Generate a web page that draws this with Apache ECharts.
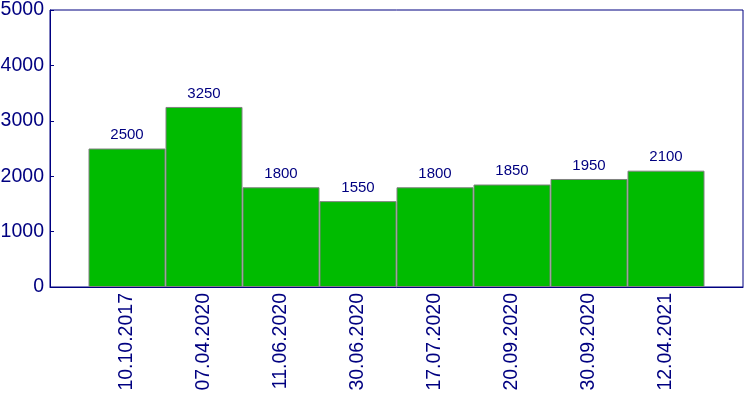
<!DOCTYPE html>
<html>
<head>
<meta charset="utf-8">
<script src="https://cdn.jsdelivr.net/npm/echarts@6/dist/echarts.min.js"></script>
<style>
  html, body { margin: 0; padding: 0; background: #fff; }
  #chart { width: 750px; height: 400px; }
</style>
</head>
<body>
<div id="chart"></div>
<script>
var dates = ['10.10.2017', '07.04.2020', '11.06.2020', '30.06.2020', '17.07.2020', '20.09.2020', '30.09.2020', '12.04.2021'];
var values = [2500, 3250, 1800, 1550, 1800, 1850, 1950, 2100];
var yTicks = [0, 1000, 2000, 3000, 4000, 5000];

var navy = '#000080';
// bars sit at positions 1..8 on a 0..9 value axis (half a slot of padding each side)
var points = values.map(function (v, i) { return [i + 1, v]; });

var myChart = echarts.init(document.getElementById('chart'));
myChart.setOption({
    animation: false,
    grid: {
        left: 50, top: 10, right: 7, bottom: 113,
        outerBoundsMode: 'none', containLabel: false,
        show: true, borderColor: navy, borderWidth: 1, backgroundColor: '#fff'
    },
    xAxis: {
        type: 'value',
        min: 0, max: dates.length + 1, interval: 1,
        axisLine: { show: true, lineStyle: { color: navy } },
        axisTick: { show: false },
        splitLine: { show: false },
        axisLabel: {
            rotate: 90, margin: 6, color: navy,
            fontFamily: 'Liberation Sans', fontSize: 19.5,
            showMinLabel: true, showMaxLabel: true,
            formatter: function (v) { return dates[v - 1] || ''; }
        }
    },
    yAxis: {
        type: 'value',
        min: yTicks[0], max: yTicks[yTicks.length - 1], interval: 1000,
        axisLine: { show: true, lineStyle: { color: navy } },
        axisTick: { show: true, inside: true, length: 4, lineStyle: { color: navy } },
        splitLine: { show: false },
        axisLabel: {
            color: navy, margin: 6,
            fontFamily: 'Liberation Sans', fontSize: 19.5,
            formatter: function (v) { return String(v); }
        }
    },
    series: [{
        type: 'bar',
        data: points,
        barWidth: 77,
        itemStyle: { color: '#00BB00', borderColor: '#808080', borderWidth: 1 },
        label: {
            show: true, position: 'top', distance: 6,
            color: navy, fontFamily: 'Liberation Sans', fontSize: 15,
            formatter: function (p) { return p.value[1]; }
        }
    }]
});
</script>
</body>
</html>
